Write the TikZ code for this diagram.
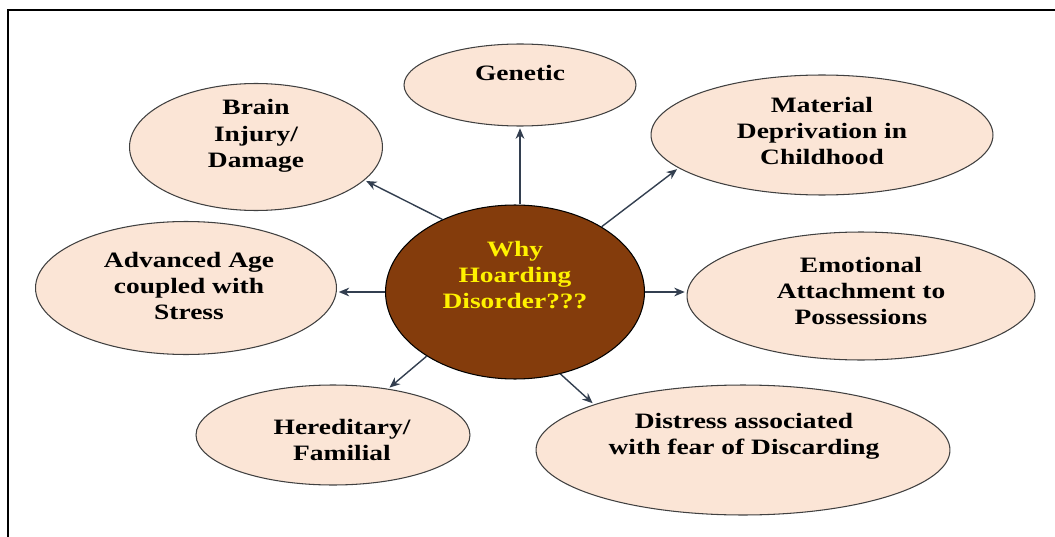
\documentclass[tikz,border=0pt]{standalone}
\usepackage{fontspec}
\newfontfamily\lblfont[FakeStretch=1.25]{Liberation Serif}
\usetikzlibrary{arrows.meta,shapes.geometric}
\definecolor{peach}{HTML}{FBE5D6}
\definecolor{brownfill}{HTML}{843C0C}
\definecolor{arrowgray}{HTML}{333F50}
\tikzset{
	blob/.style={ellipse, draw=black!75, line width=0.6pt, fill=peach, inner sep=0pt},
	lbl/.style={align=center, font=\lblfont\bfseries\fontsize{12.5}{15}\selectfont},
	arr/.style={arrowgray, line width=0.8pt, -{Stealth[length=6pt, width=5pt]}, shorten >=1pt}
}
\begin{document}
\begin{tikzpicture}[x=0.02cm, y=-0.02cm]
	\useasboundingbox (0,0) rectangle (1055,537);
	
	%Rahmen
	\draw[line width=1.6pt] (8,537) -- (8,10) -- (1055,10);
	
	%Mitte
	\node[ellipse, draw=black, line width=0.6pt, fill=brownfill, inner sep=0pt,
		minimum width=5.18cm, minimum height=3.48cm] (why) at (515,292) {};
	\node[lbl, text=yellow] (why-t) at (515,275) {Why\\Hoarding\\Disorder???};
	
	%Ursachen
	\node[blob, minimum width=4.64cm, minimum height=1.64cm] (gen) at (520,85) {};
	\node[lbl] (gen-t) at (520,73) {Genetic};
	
	\node[blob, minimum width=5.06cm, minimum height=2.54cm] (brain) at (256,147) {};
	\node[lbl] (brain-t) at (256,136) {Brain\\Injury/\\Damage};
	
	\node[blob, minimum width=6.84cm, minimum height=2.40cm] (mat) at (822,135) {};
	\node[lbl] (mat-t) at (822,131) {Material\\Deprivation in\\Childhood};
	
	\node[blob, minimum width=6.02cm, minimum height=2.66cm] (adv) at (186,288) {};
	\node[lbl] (adv-t) at (189,286) {Advanced Age\\coupled with\\Stress};
	
	\node[blob, minimum width=6.96cm, minimum height=2.56cm] (emo) at (861,296) {};
	\node[lbl] (emo-t) at (861,291) {Emotional\\Attachment to\\Possessions};
	
	\node[blob, minimum width=5.48cm, minimum height=2.00cm] (her) at (333,435) {};
	\node[lbl] (her-t) at (342,440) {Hereditary/\\Familial};
	
	\node[blob, minimum width=8.28cm, minimum height=2.60cm] (dis) at (743,450) {};
	\node[lbl] (dis-t) at (744,436) {Distress associated\\with fear of Discarding};
	
	%Pfeile
	\draw[arr] (why.north -| gen.south) -- (gen.south);
	\draw[arr] (why.135) -- (brain.-17);
	\draw[arr] (why.37) -- (mat.193);
	\draw[arr] (why.west) -- (why.west -| adv.east);
	\draw[arr] (why.east) -- (why.east -| emo.west);
	\draw[arr] (why.216) -- (her.40);
	\draw[arr] (why.-61) -- (dis.163);
	
\end{tikzpicture}
\end{document}
